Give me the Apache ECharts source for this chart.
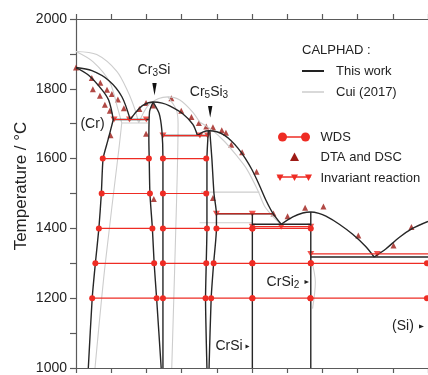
<!DOCTYPE html>
<html>
<head>
<meta charset="utf-8">
<script src="https://cdn.jsdelivr.net/npm/echarts@6/dist/echarts.min.js"></script>
<style>
  html, body { margin: 0; padding: 0; background: #fff; }
  #phase_figure { width: 428px; height: 375px; }
</style>
</head>
<body>
<div id="phase_figure"></div>
<script>
// x = mole fraction Si, y = temperature in degC

// CALPHAD, this work
var liqCr = [[0, 1861], [0.045, 1852], [0.093, 1824], [0.13, 1778], [0.154, 1712]];
var solidusCr = [[0, 1861], [0.036, 1839], [0.074, 1797], [0.093, 1767], [0.106, 1712]];
var solvusCr = [[0.106, 1712], [0.09, 1650], [0.077, 1600], [0.072, 1500], [0.065, 1400], [0.055, 1300], [0.046, 1200], [0.035, 1000]];
var liqCr3Si = [[0.154, 1712], [0.172, 1735], [0.191, 1753], [0.219, 1762], [0.245, 1759], [0.266, 1751], [0.304, 1728], [0.332, 1698], [0.345, 1666]];
var liqCr5Si3 = [[0.345, 1666], [0.36, 1676], [0.378, 1680], [0.40, 1677], [0.42, 1668], [0.44, 1652], [0.46, 1630], [0.48, 1602], [0.50, 1568], [0.52, 1526], [0.54, 1480], [0.559, 1444], [0.583, 1412]];
var liqCrSi2 = [[0.583, 1412], [0.616, 1433], [0.644, 1444], [0.667, 1447], [0.69, 1443], [0.71, 1435], [0.748, 1412], [0.786, 1383], [0.823, 1348], [0.847, 1318]];
var liqSi = [[0.847, 1318], [0.88, 1341], [0.918, 1374], [0.956, 1400], [1, 1420]];
var cr3siLeft = [[0.219, 1762], [0.209, 1735], [0.207, 1650], [0.208, 1600], [0.21, 1500], [0.217, 1400], [0.222, 1300], [0.229, 1200], [0.242, 1000]];
var cr3siRight = [[0.219, 1762], [0.236, 1730], [0.244, 1680], [0.247, 1600], [0.247, 1000]];
var cr5si3Left = [[0.376, 1680], [0.372, 1600], [0.372, 1400], [0.37, 1300], [0.368, 1200], [0.372, 1000]];
var cr5si3Right = [[0.38, 1680], [0.386, 1600], [0.392, 1500], [0.399, 1442], [0.399, 1400], [0.391, 1300], [0.384, 1200], [0.378, 1000]];
var crSiLine = [[0.501, 1442], [0.501, 1000]];
var crSi2Line = [[0.667, 1447], [0.667, 1000]];
var blackInvariants = [
  [[0.106, 1712], [0.207, 1712]],
  [[0.247, 1666], [0.372, 1666]],
  [[0.399, 1442], [0.557, 1442]],
  [[0.501, 1412], [0.667, 1412]],
  [[0.667, 1318], [1, 1318]]
];

// CALPHAD, Cui (2017)
var cuiLiqCr = [[0, 1907], [0.059, 1898], [0.116, 1850], [0.147, 1793], [0.167, 1742], [0.178, 1702]];
var cuiSolidusCr = [[0, 1907], [0.048, 1878], [0.096, 1819], [0.119, 1742], [0.13, 1702]];
var cuiSolvusCr = [[0.13, 1702], [0.122, 1629], [0.082, 1289], [0.054, 1000]];
var cuiLiqCr3Si = [[0.178, 1702], [0.204, 1751], [0.235, 1772], [0.261, 1777], [0.295, 1768], [0.331, 1734], [0.351, 1705]];
var cuiCr3siRight = [[0.261, 1777], [0.285, 1740], [0.29, 1700], [0.286, 1490], [0.272, 1000]];
var cuiLiqCr5Si3 = [[0.351, 1705], [0.385, 1683], [0.422, 1649], [0.456, 1609], [0.484, 1572], [0.516, 1510], [0.535, 1465], [0.555, 1439], [0.575, 1418], [0.583, 1412]];
var cuiCrSi2 = [[0.667, 1318], [0.68, 1246], [0.672, 1170]];
var cuiInvariants = [
  [[0.13, 1702], [0.205, 1702]],
  [[0.355, 1504], [0.521, 1504]],
  [[0.351, 1416], [0.501, 1416]]
];

// experiments
var wdsTemps = [1600, 1500, 1400, 1300, 1200];
var wdsTies = [
  [[0.076, 0.207], [0.247, 0.37]],
  [[0.073, 0.21], [0.247, 0.37]],
  [[0.065, 0.217], [0.247, 0.372], [0.399, 0.501], [0.501, 0.667]],
  [[0.055, 0.222], [0.247, 0.37], [0.391, 0.501], [0.501, 0.667], [0.667, 0.997]],
  [[0.046, 0.229], [0.247, 0.368], [0.384, 0.501], [0.501, 0.666], [0.666, 0.997]]
];
var dtaDsc = [
  [0, 1861], [0.045, 1831], [0.069, 1817], [0.048, 1799], [0.088, 1797], [0.068, 1780],
  [0.102, 1785], [0.082, 1754], [0.119, 1769], [0.136, 1744], [0.096, 1737], [0.098, 1667],
  [0.18, 1742], [0.199, 1759], [0.219, 1752], [0.199, 1671], [0.271, 1773], [0.299, 1737],
  [0.328, 1719], [0.349, 1702], [0.37, 1692], [0.389, 1690], [0.414, 1681], [0.426, 1674],
  [0.441, 1640], [0.472, 1618], [0.513, 1562], [0.221, 1484], [0.389, 1487], [0.561, 1443],
  [0.601, 1435], [0.651, 1459], [0.703, 1463], [0.802, 1380], [0.902, 1351], [0.953, 1404]
];
var invLines = [
  [[0.108, 1712], [0.2, 1712]],
  [[0.247, 1666], [0.374, 1666]],
  [[0.399, 1442], [0.556, 1442]],
  [[0.501, 1405], [0.667, 1405]],
  [[0.667, 1327], [1, 1327]]
];
var invMarks = [
  [0.108, 1712], [0.152, 1712], [0.2, 1712], [0.247, 1666], [0.352, 1666], [0.374, 1666],
  [0.399, 1442], [0.501, 1442], [0.501, 1405], [0.583, 1405], [0.667, 1405], [0.667, 1327], [0.856, 1327]
];

var BLACK = '#262626', GRAY = '#cdcdcd', RED = '#ee2c24', DARKRED = '#9e1b16';
var FONT = '"Liberation Sans", Arial, Helvetica, sans-serif';

function curve(data, color, width, smooth) {
  return {
    type: 'line', data: data, smooth: smooth, symbol: 'none', silent: true,
    lineStyle: { color: color, width: width }
  };
}

var series = [];
// Cui (2017) underneath
[cuiLiqCr, cuiSolidusCr, cuiSolvusCr, cuiLiqCr3Si, cuiCr3siRight, cuiLiqCr5Si3, cuiCrSi2].forEach(function (d) {
  series.push(curve(d, GRAY, 1.1, 0.3));
});
cuiInvariants.forEach(function (d) { series.push(curve(d, GRAY, 1.1, false)); });

// this work
[liqCr, solidusCr, liqCr3Si, liqCr5Si3, liqCrSi2, liqSi].forEach(function (d) {
  series.push(curve(d, BLACK, 1.4, 0.3));
});
[solvusCr, cr3siLeft, cr3siRight, cr5si3Left, cr5si3Right].forEach(function (d) {
  series.push(curve(d, BLACK, 1.4, 0.2));
});
[crSiLine, crSi2Line].concat(blackInvariants).forEach(function (d) {
  series.push(curve(d, BLACK, 1.4, false));
});

// WDS tie lines
wdsTies.forEach(function (ties, i) {
  ties.forEach(function (t) {
    series.push({
      type: 'line', silent: true, symbol: 'circle', symbolSize: 6, showSymbol: true,
      data: [[t[0], wdsTemps[i]], [t[1], wdsTemps[i]]],
      lineStyle: { color: RED, width: 1.2 }, itemStyle: { color: RED }
    });
  });
});

// invariant reactions
invLines.forEach(function (d) { series.push(curve(d, RED, 1.2, false)); });
series.push({
  type: 'scatter', data: invMarks, symbol: 'triangle', symbolRotate: 180, symbolSize: [7, 6],
  itemStyle: { color: RED }, silent: true
});
series.push({
  type: 'scatter', data: dtaDsc, symbol: 'triangle', symbolSize: [6, 6],
  itemStyle: { color: DARKRED }, silent: true
});

function label(x, y, text, size) {
  return {
    type: 'text', x: x, y: y, z: 100,
    style: {
      text: text, fill: '#222', font: size + 'px ' + FONT, align: 'center', verticalAlign: 'middle',
      rich: {
        m: { fontSize: size, fontFamily: FONT, fill: '#222', lineHeight: 17 },
        s: { fontSize: size - 4, fontFamily: FONT, fill: '#222', lineHeight: 10, verticalAlign: 'bottom' }
      }
    }
  };
}
function legendText(x, y, text) {
  return { type: 'text', x: x, y: y, z: 100, style: { text: text, fill: '#222', font: '13px ' + FONT, align: 'left', verticalAlign: 'middle' } };
}
function tri(points, color) {
  return { type: 'polygon', z: 100, shape: { points: points }, style: { fill: color } };
}

var graphic = [
  { type: 'text', x: 21, y: 186, rotation: Math.PI / 2, z: 100,
    style: { text: 'Temperature / °C', fill: '#222', font: '17px ' + FONT, align: 'center', verticalAlign: 'middle' } },
  label(92.5, 124, '{m|(Cr)}', 14),
  label(154, 70, '{m|Cr}{s|3}{m|Si}', 14),
  tri([[152.3, 83], [156.7, 83], [154.5, 95.5]], '#111'),
  label(209, 92, '{m|Cr}{s|5}{m|Si}{s|3}', 14),
  tri([[208, 106], [212.4, 106], [210.2, 117.5]], '#111'),
  label(283, 282, '{m|CrSi}{s|2}', 14),
  tri([[304.5, 280], [304.5, 284], [309, 282]], '#222'),
  label(229, 346.5, '{m|CrSi}', 14),
  tri([[245.5, 344.5], [245.5, 348.5], [249.5, 346.5]], '#222'),
  label(403, 326.5, '{m|(Si)}', 14),
  tri([[419, 324.5], [419, 328.5], [424, 326.5]], '#222'),

  // legend
  legendText(302, 50, 'CALPHAD :'),
  { type: 'line', z: 100, shape: { x1: 302, y1: 71, x2: 324, y2: 71 }, style: { stroke: '#222', lineWidth: 2 } },
  legendText(336, 71, 'This work'),
  { type: 'line', z: 100, shape: { x1: 302, y1: 92, x2: 324, y2: 92 }, style: { stroke: GRAY, lineWidth: 1.5 } },
  legendText(336, 92, 'Cui (2017)'),
  { type: 'line', z: 100, shape: { x1: 282.5, y1: 137, x2: 305.5, y2: 137 }, style: { stroke: RED, lineWidth: 1.5 } },
  { type: 'circle', z: 101, shape: { cx: 282.5, cy: 137, r: 4.5 }, style: { fill: RED } },
  { type: 'circle', z: 101, shape: { cx: 305.5, cy: 137, r: 4.5 }, style: { fill: RED } },
  legendText(320.5, 137, 'WDS'),
  tri([[290, 161], [299, 161], [294.5, 152.5]], DARKRED),
  legendText(320.5, 157, 'DTA and DSC'),
  { type: 'line', z: 100, shape: { x1: 277.5, y1: 177, x2: 310.5, y2: 177 }, style: { stroke: RED, lineWidth: 1.5 } },
  tri([[276.5, 174.5], [283.5, 174.5], [280, 181]], RED),
  tri([[291, 174.5], [298, 174.5], [294.5, 181]], RED),
  tri([[305, 174.5], [312, 174.5], [308.5, 181]], RED),
  legendText(320.5, 178, 'Invariant reaction')
];

var axisLineStyle = { color: '#5a5a5a', width: 1.2 };
var myChart = echarts.init(document.getElementById('phase_figure'));
var option = {
  animation: false,
  grid: { left: 76, right: -1, top: 19, bottom: 3 },
  xAxis: [
    {
      type: 'value', min: 0, max: 1, interval: 0.1, position: 'bottom',
      axisLine: { show: true, lineStyle: axisLineStyle },
      axisTick: { show: true, length: 5, lineStyle: axisLineStyle },
      axisLabel: { show: false }, splitLine: { show: false }
    },
    {
      type: 'value', min: 0, max: 1, interval: 0.1, position: 'top',
      axisLine: { show: true, lineStyle: axisLineStyle },
      axisTick: { show: true, length: 5, lineStyle: axisLineStyle },
      axisLabel: { show: false }, splitLine: { show: false }
    }
  ],
  yAxis: {
    type: 'value', min: 1000, max: 2000, interval: 100,
    axisLine: { show: true, lineStyle: axisLineStyle },
    axisTick: { show: true, length: 6, lineStyle: axisLineStyle },
    axisLabel: {
      margin: 9, color: '#222', fontSize: 14, fontFamily: FONT,
      formatter: function (v) { return v % 200 === 0 ? String(v) : ''; }
    },
    splitLine: { show: false }
  },
  graphic: graphic,
  series: series
};
myChart.setOption(option);
</script>
</body>
</html>
